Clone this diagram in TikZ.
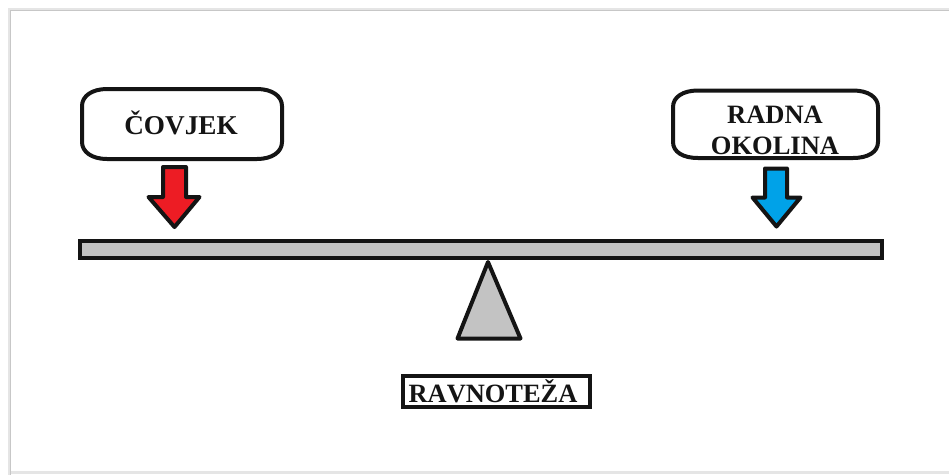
\documentclass[tikz,border=0pt]{standalone}
\usepackage{fontspec}
\setmainfont{Liberation Serif}
\definecolor{paintred}{HTML}{ED1C24}
\definecolor{paintblue}{HTML}{00A2E8}
\definecolor{paintgray}{HTML}{C3C3C3}
\definecolor{inkblack}{HTML}{141414}
\tikzset{
  outline/.style={draw=inkblack,line width=4pt,line join=round},
  roundbox/.style={outline,fill=white},
  lbl/.style={font=\fontsize{26.5}{31}\selectfont\bfseries,text=inkblack,align=center,inner sep=0pt},
  lblwide/.style={font=\fontsize{27.2}{31}\selectfont\bfseries\addfontfeature{Kerning=Off},text=inkblack,align=center,inner sep=0pt},
  shade1/.style={draw=black!22,line width=1.2pt},
  shade2/.style={draw=black!10,line width=2.5pt}
}
\begin{document}
\begin{tikzpicture}[x=1pt,y=-1pt]
\useasboundingbox (0,0) rectangle (949,475);
\fill[white] (0,0) rectangle (949,475);
% page shadow
\draw[shade2] (949,9.5) -- (9.5,9.5) -- (9.5,475);
\draw[shade2] (9.5,472.5) -- (949,472.5);
\draw[shade1] (949,10.5) -- (10.5,10.5) -- (10.5,475);
% boxes
\draw[roundbox] (107,89) -- (257,89) .. controls (272,89) and (282,96) .. (282,106)
  -- (282,142) .. controls (282,152) and (272,159) .. (257,159)
  -- (107,159) .. controls (92,159) and (82,152) .. (82,142)
  -- (82,106) .. controls (82,96) and (92,89) .. (107,89) -- cycle;
\node[lblwide] (covjek) at (181,122.5) {ČOVJEK};
\draw[roundbox] (698,90.5) -- (853,90.5) .. controls (868,90.5) and (878,97) .. (878,107)
  -- (878,142) .. controls (878,152) and (868,158) .. (853,158)
  -- (698,158) .. controls (683,158) and (673,152) .. (673,142)
  -- (673,107) .. controls (673,97) and (683,90.5) .. (698,90.5) -- cycle;
\node[lbl] (radna) at (775,130) {RADNA\\OKOLINA};
% arrows
\draw[outline,fill=paintred] (163,167) -- (186,167) -- (186,197) -- (199.5,197) -- (174.5,227) -- (148.5,197) -- (163,197) -- cycle;
\draw[outline,fill=paintblue] (765,168.5) -- (787,168.5) -- (787,197.5) -- (800.5,197.5) -- (776.5,226.5) -- (752.5,197.5) -- (765,197.5) -- cycle;
% beam and pivot
\draw[outline,fill=paintgray,line join=miter] (80,241) rectangle (882,258);
\draw[outline,fill=paintgray] (488,262) -- (520.5,338.5) -- (457.5,338.5) -- cycle;
% label
\node[lblwide,font=\fontsize{26.4}{31}\selectfont\bfseries\addfontfeature{Kerning=Off},draw=inkblack,line width=4pt,fill=white,minimum width=187pt,minimum height=31pt] (ravnoteza) at (496,391.5) {\hspace{-6pt}\raisebox{1.5pt}{RAVNOTEŽA}};
\end{tikzpicture}
\end{document}
